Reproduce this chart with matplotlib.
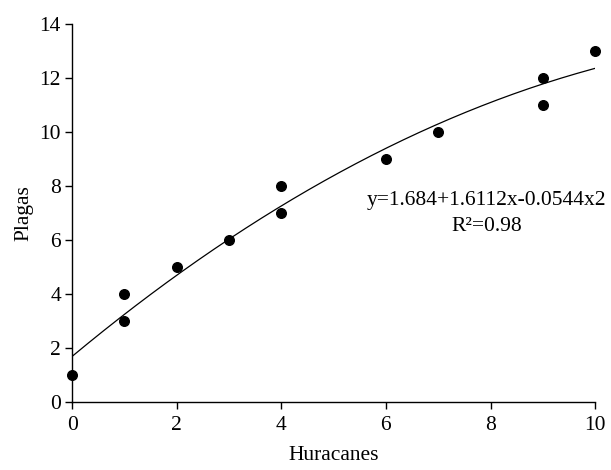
import numpy as np
import matplotlib
matplotlib.use("Agg")
import matplotlib.pyplot as plt

plt.rcParams['font.family'] = ['Liberation Serif', 'DejaVu Serif']

huracanes = [0, 1, 1, 2, 3, 4, 4, 6, 7, 9, 9, 10]
plagas = [1, 3, 4, 5, 6, 7, 8, 9, 10, 11, 12, 13]
coef = [1.684, 1.6112, -0.0544]  # y = a + b x + c x^2
x_ticks = [0, 2, 4, 6, 8, 10]
y_ticks = [0, 2, 4, 6, 8, 10, 12, 14]

fig = plt.figure(figsize=(6.11, 4.70), dpi=100)
ax = fig.add_axes([0.118, 0.145, 0.856, 0.804])

xs = np.linspace(0, 10, 200)
ys = coef[0] + coef[1] * xs + coef[2] * xs ** 2
ax.plot(xs, ys, color='black', lw=0.9, zorder=2)
ax.scatter(huracanes, plagas, s=48, color='black', zorder=3, clip_on=False)

ax.set_xlim(0, 10)
ax.set_ylim(0, 14)
ax.set_xticks(x_ticks)
ax.set_yticks(y_ticks)
for s in ['top', 'right']:
    ax.spines[s].set_visible(False)
for s in ['left', 'bottom']:
    ax.spines[s].set_linewidth(1.0)
ax.tick_params(direction='out', length=5, width=1.0, labelsize=15.5, pad=3)
ax.tick_params(axis='x', pad=5)
ax.set_xlabel('Huracanes', fontsize=15.5, labelpad=8)
ax.set_ylabel('Plagas', fontsize=15.5, labelpad=4)

ax.text(0.793, 0.534, 'y=1.684+1.6112x-0.0544x2', transform=ax.transAxes,
        ha='center', va='center', fontsize=15.5)
ax.text(0.793, 0.463, 'R²=0.98', transform=ax.transAxes,
        ha='center', va='center', fontsize=15.5)

fig.savefig('out.png', dpi=100)
